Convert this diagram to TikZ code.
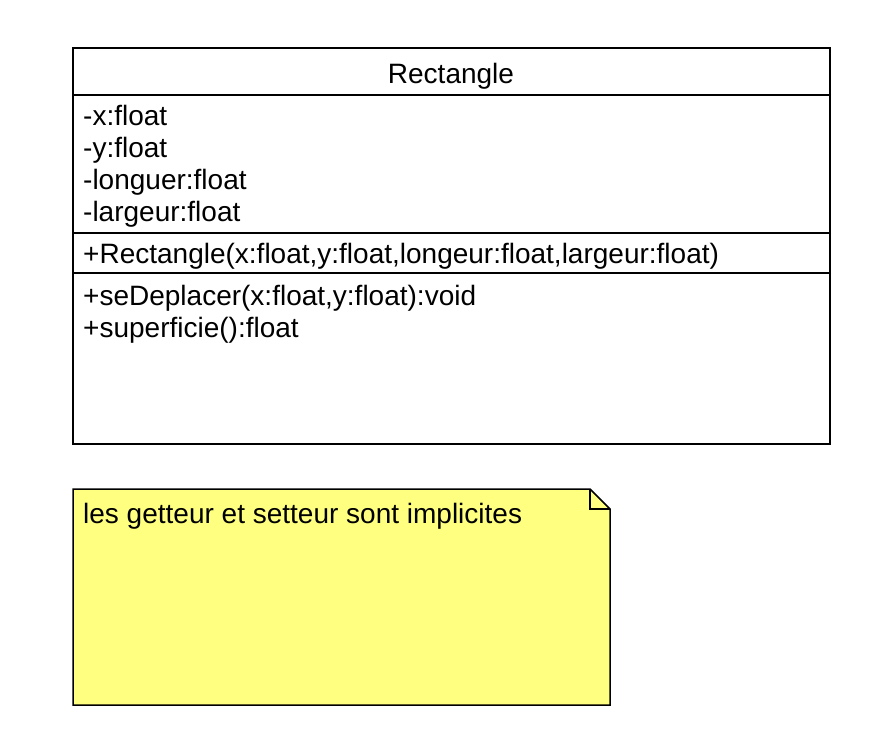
\documentclass[tikz,border=0pt]{standalone}
\usepackage{fontspec}
\setmainfont{Liberation Sans}
\definecolor{noteyellow}{RGB}{255,255,128}
\tikzset{
	umltext/.style = {anchor = base west, inner sep = 0pt, font = \fontsize{28}{32}\selectfont},
	umlline/.style = {line width = 1.5pt, color = black}
}
\begin{document}
\begin{tikzpicture}[x = 1pt, y = -1pt]
		\useasboundingbox (0,0) rectangle (891,750);
		% class box
		\draw[umlline] (73,48) rectangle (830,444);
		\draw[umlline] (73,95) -- (830,95);
		\draw[umlline] (73,233) -- (830,233);
		\draw[umlline] (73,273) -- (830,273);
		\node (title) [umltext, anchor = base] at (451,83) {Rectangle};
		\node (attx) [umltext] at (83,125) {-x:float};
		\node (atty) [umltext] at (83,157) {-y:float};
		\node (attlong) [umltext] at (83,189) {-longuer:float};
		\node (attlarg) [umltext] at (83,221) {-largeur:float};
		\node (ctor) [umltext] at (83,263) {+Rectangle(x:float,y:float,longeur:float,largeur:float)};
		\node (depl) [umltext] at (83,305) {+seDeplacer(x:float,y:float):void};
		\node (surf) [umltext] at (83,337) {+superficie():float};
		% note
		\draw[umlline, fill = noteyellow] (73,489) -- (590,489) -- (610,509) -- (610,705) -- (73,705) -- cycle;
		\draw[umlline] (590,489) -- (590,509) -- (610,509);
		\node (note) [umltext] at (83,523) {les getteur et setteur sont implicites};
	\end{tikzpicture}
\end{document}
